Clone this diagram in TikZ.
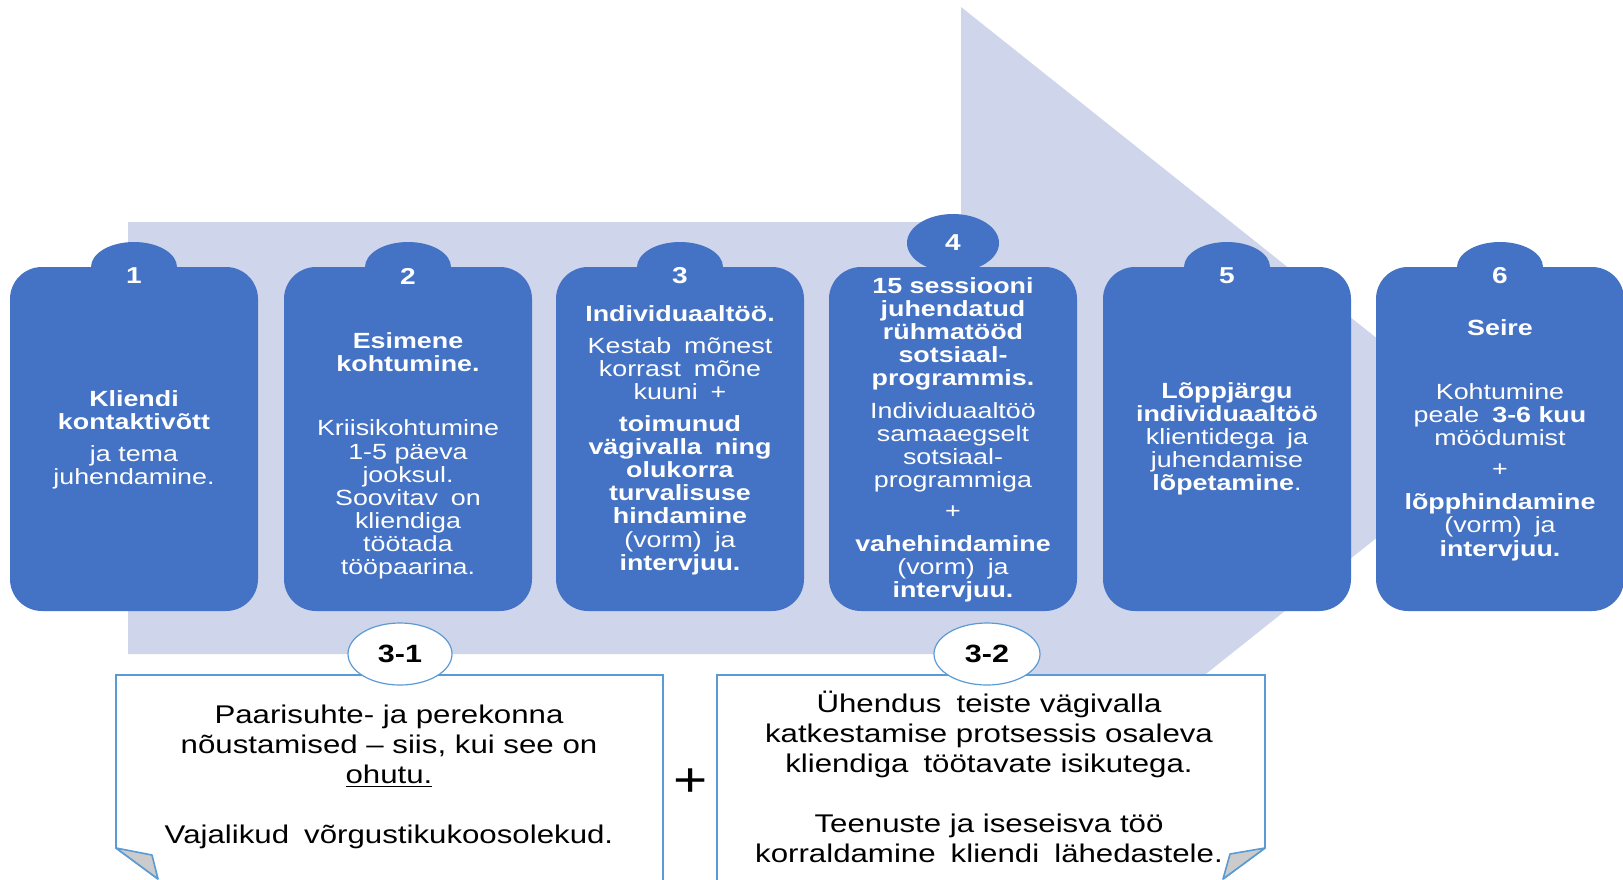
\documentclass[tikz,border=0pt]{standalone}
\usepackage{fontspec}
\setmainfont{Liberation Sans}[FakeStretch=1.22]
\usetikzlibrary{shapes.geometric}
\definecolor{cardblue}{HTML}{4472C4}
\definecolor{arrowfill}{HTML}{CFD5EA}
\definecolor{boxline}{HTML}{5B9BD5}
\definecolor{foldgray}{HTML}{CBCBCB}
\newcommand\wsp{\ \hspace{0.25em}}
\begin{document}
\begin{tikzpicture}[x=0.5pt,y=-0.5pt,
  card/.style={fill=cardblue, rounded corners=16pt, minimum width=124pt, minimum height=172pt, inner sep=0pt},
  tab/.style={ellipse, fill=cardblue, minimum width=43pt, minimum height=25pt, inner sep=0pt},
  bigtab/.style={ellipse, fill=cardblue, minimum width=46pt, minimum height=29pt, inner sep=0pt},
  num/.style={text=white, font=\fontsize{11.5}{12}\selectfont\bfseries, inner sep=0pt},
  cardtext/.style={text=white, align=center, inner sep=0pt, font=\fontsize{11}{11.55}\selectfont},
  notetext/.style={text=black, align=center, inner sep=0pt, font=\fontsize{12.8}{15}\selectfont},
  label/.style={ellipse, draw=boxline, line width=0.6pt, fill=white, minimum width=52pt, minimum height=31pt, inner sep=0pt, font=\fontsize{12.5}{13}\selectfont\bfseries},
  boxedge/.style={draw=boxline, line width=0.8pt},
  fold/.style={fill=foldgray, draw=boxline, line width=0.8pt, line join=round}]
\useasboundingbox (0,0) rectangle (1623,879);
\fill[white] (0,0) rectangle (1623,879);
% big background arrow
\fill[arrowfill] (128,222) -- (961,222) -- (961,7) -- (1502,438) -- (961,869) -- (961,654) -- (128,654) -- cycle;
% cards
\foreach \i/\x in {1/134,2/408,3/680,5/1227,6/1500}{
  \node[tab] (t\i) at (\x,267) {};
}
\node[bigtab] (t4) at (953,243) {};
\foreach \i/\x in {1/134,2/408,3/680,4/953,5/1227,6/1500}{
  \node[card] (c\i) at (\x,439) {};
}
\foreach \i/\x in {1/134,2/408,3/680,5/1227,6/1500}{
  \node[num] (n\i) at (\x,276) {\i};
}
\node[num] (n4) at (953,243) {4};
% card texts
\node[cardtext] (x1) at (134,440) {\textbf{Kliendi}\\\textbf{kontaktivõtt}\\[4.5pt]ja tema\\juhendamine.};
\node[cardtext] (x2) at (408,456) {\textbf{Esimene}\\\textbf{kohtumine.}\\[20.5pt]Kriisikohtumine\\1-5 päeva\\jooksul.\\Soovitav\wsp on\\kliendiga\\töötada\\tööpaarina.};
\node[cardtext] (x3) at (680,440) {\textbf{Individuaaltöö.}\\[4.5pt]Kestab\wsp mõnest\\korrast\wsp mõne\\kuuni\wsp +\\[4.5pt]\textbf{toimunud}\\\textbf{vägivalla\wsp ning}\\\textbf{olukorra}\\\textbf{turvalisuse}\\\textbf{hindamine}\\(vorm)\wsp ja\\\textbf{intervjuu.}};
\node[cardtext] (x4) at (953,440) {\textbf{15 sessiooni}\\\textbf{juhendatud}\\\textbf{rühmatööd}\\\textbf{sotsiaal-}\\\textbf{programmis.}\\[4.5pt]Individuaaltöö\\samaaegselt\\sotsiaal-\\programmiga\\[4pt]+\\[5pt]\textbf{vahehindamine}\\(vorm)\wsp ja\\\textbf{intervjuu.}};
\node[cardtext] (x5) at (1227,439) {\textbf{Lõppjärgu}\\\textbf{individuaaltöö}\\klientidega\wsp ja\\juhendamise\\\textbf{lõpetamine}.};
\node[cardtext] (x6) at (1500,440) {\textbf{Seire}\\[20.5pt]Kohtumine\\peale\wsp \textbf{3-6 kuu}\\möödumist\\[4pt]+\\[5pt]\textbf{lõpphindamine}\\(vorm)\wsp ja\\\textbf{intervjuu.}};
% note box 3-1
\fill[white] (116,675) -- (663,675) -- (663,879) -- (158,879) -- (116,848) -- cycle;
\draw[boxedge] (158,879) -- (116,848) -- (116,675) -- (663,675) -- (663,882);
\draw[fold] (116,848) -- (152,855) -- (158,879) -- cycle;
% note box 3-2
\fill[white] (717,675) -- (1265,675) -- (1265,848) -- (1223,879) -- (717,879) -- cycle;
\draw[boxedge] (717,882) -- (717,675) -- (1265,675) -- (1265,848) -- (1223,879);
\draw[fold] (1265,848) -- (1230,854) -- (1223,879) -- cycle;
% labels
\node[label] (l31) at (400,654) {3-1};
\node[label, minimum width=53pt] (l32) at (987,654) {3-2};
% note texts
\node[notetext] (b1) at (389,777) {Paarisuhte- ja perekonna\\nõustamised – siis, kui see on\\\underline{ohutu.}\\[15pt]Vajalikud\wsp võrgustikukoosolekud.};
\node[notetext] (b2) at (989,777) {Ühendus\wsp teiste vägivalla\\katkestamise protsessis osaleva\\kliendiga\wsp töötavate isikutega.\\[15pt]Teenuste ja iseseisva töö\\korraldamine\wsp kliendi\wsp lähedastele.};
\node[font=\fontsize{24}{24}\selectfont, inner sep=0pt] (plus) at (691,783) {+};
\end{tikzpicture}
\end{document}
